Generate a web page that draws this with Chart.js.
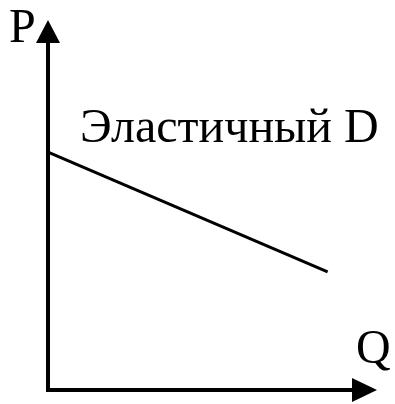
<!DOCTYPE html>
<html>
<head>
<meta charset="utf-8">
<script src="https://cdn.jsdelivr.net/npm/chart.js@4"></script>
<style>
  html, body { margin: 0; padding: 0; background: #fff; }
  #wrap { width: 395px; height: 404px; }
</style>
</head>
<body>
<div id="wrap"><canvas id="chart"></canvas></div>
<script>
// Elastic demand curve: Q on x, P on y
const quantity = [0, 8.5];
const price = [6.43, 3.19];
const axisMax = 10;
const curveLabel = 'Эластичный D';
const xAxisLabel = 'Q';
const yAxisLabel = 'P';

// axes with arrowheads + labels
const axesPlugin = {
  id: 'arrowAxes',
  beforeDatasetsDraw(chart) {
    const { ctx, scales: { x, y } } = chart;
    const x0 = x.getPixelForValue(0), xEnd = x.getPixelForValue(axisMax);
    const y0 = y.getPixelForValue(0), yEnd = y.getPixelForValue(axisMax);
    ctx.save();
    ctx.strokeStyle = '#000';
    ctx.fillStyle = '#000';
    ctx.lineWidth = 4;
    ctx.beginPath();
    ctx.moveTo(x0, yEnd + 20);
    ctx.lineTo(x0, y0);
    ctx.lineTo(xEnd - 22, y0);
    ctx.stroke();
    // arrowheads
    ctx.beginPath();
    ctx.moveTo(x0, yEnd);
    ctx.lineTo(x0 - 12, yEnd + 23);
    ctx.lineTo(x0 + 12, yEnd + 23);
    ctx.closePath();
    ctx.fill();
    ctx.beginPath();
    ctx.moveTo(xEnd, y0);
    ctx.lineTo(xEnd - 25, y0 - 12);
    ctx.lineTo(xEnd - 25, y0 + 12);
    ctx.closePath();
    ctx.fill();

    ctx.font = '48px "Liberation Serif", "Times New Roman", serif';
    ctx.textBaseline = 'alphabetic';
    ctx.fillText(yAxisLabel, 9, 42);
    ctx.fillText(xAxisLabel, 356, 363);
    ctx.fillText(curveLabel, 80, 142);
    ctx.restore();
  }
};

new Chart(document.getElementById('chart'), {
  type: 'scatter',
  data: {
    datasets: [{
      data: quantity.map((q, i) => ({ x: q, y: price[i] })),
      showLine: true,
      borderColor: '#000',
      borderWidth: 3,
      pointRadius: 0,
      fill: false
    }]
  },
  options: {
    responsive: true,
    maintainAspectRatio: false,
    animation: false,
    layout: { padding: { left: 48, top: 20, right: 18, bottom: 14 } },
    plugins: { legend: { display: false }, tooltip: { enabled: false } },
    scales: {
      x: { display: false, min: 0, max: axisMax },
      y: { display: false, min: 0, max: axisMax }
    }
  },
  plugins: [axesPlugin]
});
</script>
</body>
</html>
